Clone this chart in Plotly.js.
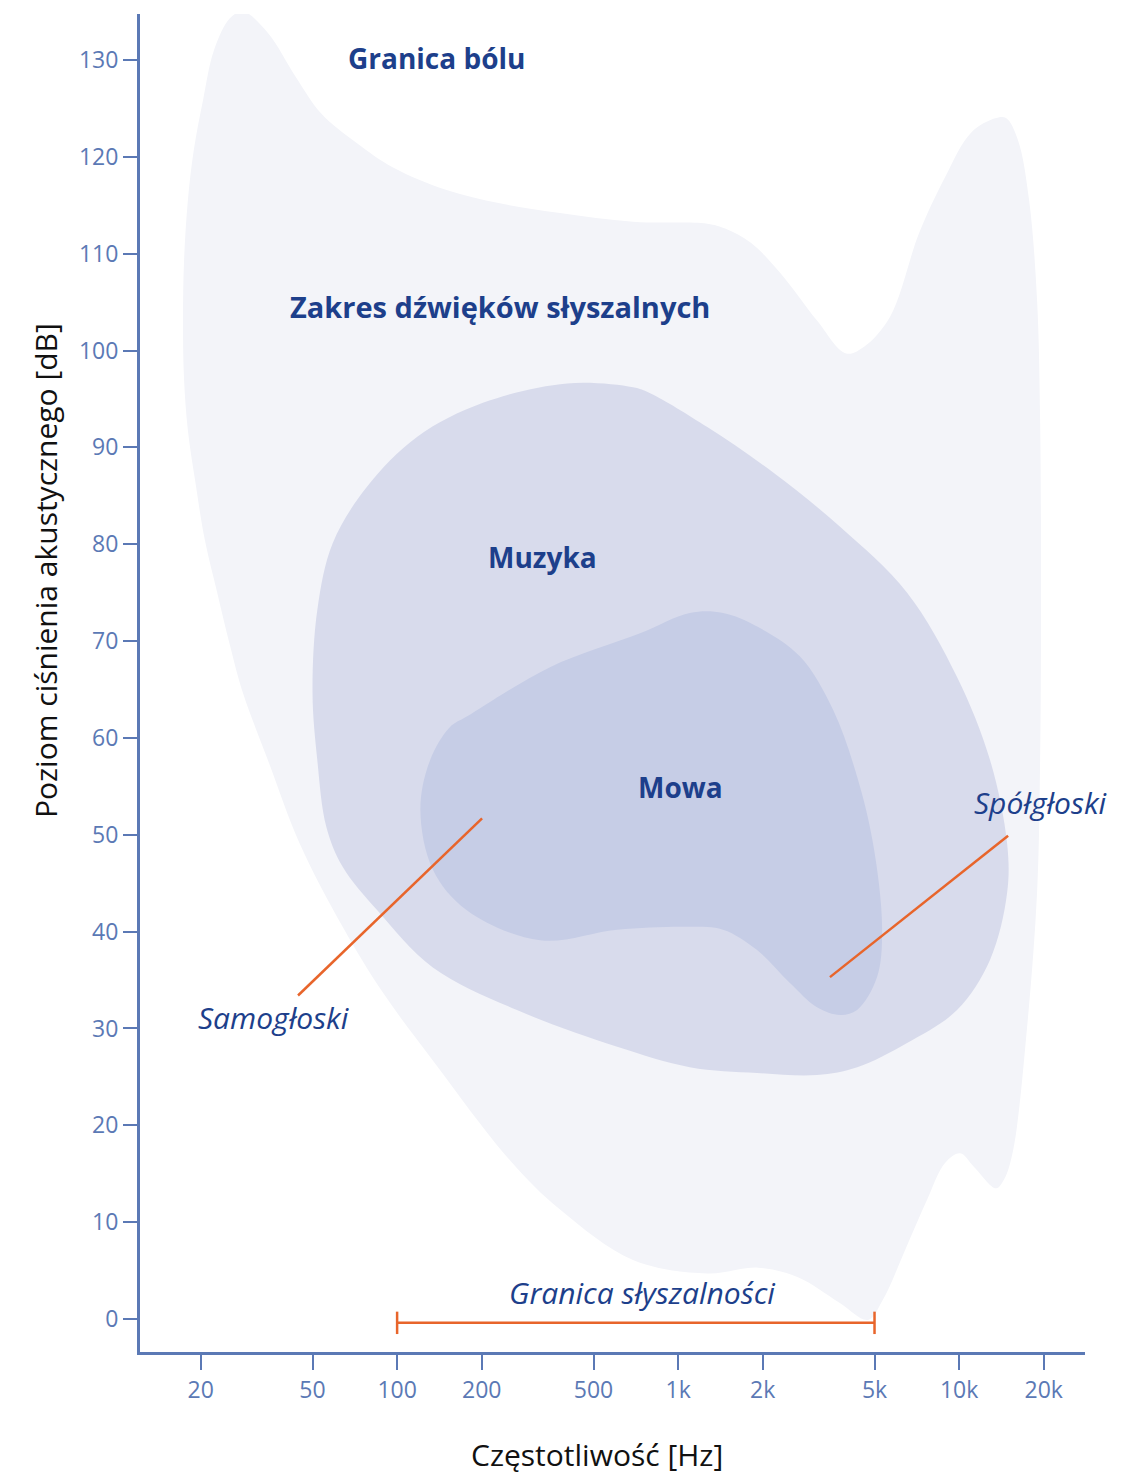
<!DOCTYPE html>
<html>
<head>
<meta charset="utf-8">
<script src="https://cdn.plot.ly/plotly-3.0.1.min.js"></script>
<style>
  html, body { margin: 0; padding: 0; background: #ffffff; }
  #chart { width: 1135px; height: 1475px; }
</style>
</head>
<body>
<div id="chart"></div>
<script>
// ---- Data (frequency in Hz, level in dB) ----
const audibleFreq = [28.3, 34.7, 43.7, 53.6, 72, 96.7, 149, 232, 380, 691, 1270, 1470, 1820, 2310, 3120, 3960, 4590, 5680, 7200, 8910, 11030, 13540, 14690, 16210, 17750, 18940, 19420, 19570, 19420, 18940, 17450, 15560, 14450, 13540, 11300, 10080, 8910, 7690, 6420, 5360, 4740, 3740, 2670, 1925, 1270, 691, 380, 252, 134, 89, 64, 45, 34.7, 28.3, 25.4, 22.9, 20.7, 19.1, 18.0, 17.45, 17.3, 17.45, 18.0, 18.9, 20.4, 22.3, 25.4, 28.3];
const audibleDb   = [135.0, 132.8, 128.2, 124.5, 121.4, 118.9, 116.6, 115.2, 114.2, 113.3, 113.1, 112.6, 111.1, 108.0, 103.1, 99.7, 100.4, 103.5, 112.1, 117.9, 122.5, 124.0, 124.0, 121.7, 115.5, 105.2, 92.8, 74.2, 57.7, 44.0, 30.1, 17.4, 14.4, 13.5, 15.7, 17.1, 16.1, 12.3, 7.1, 2.0, -0.1, 1.7, 4.3, 5.3, 4.7, 6.1, 11.3, 16.4, 26.7, 33.7, 40.5, 49.1, 57.7, 64.6, 69.6, 75.0, 80.4, 86.6, 91.8, 97.0, 103.1, 109.3, 115.5, 120.7, 125.9, 131.0, 134.3, 135.0];

const musicFreq = [403, 691, 795, 1270, 2180, 3770, 6530, 9830, 12890, 14820, 14820, 12890, 9830, 6530, 4340, 3120, 1910, 1100, 607, 267, 134, 85, 64, 56, 52, 50, 52, 59, 78, 118, 202, 403];
const musicDb   = [96.6, 96.2, 95.6, 92.1, 87.4, 81.8, 75.0, 66.3, 57.7, 49.1, 44.0, 37.1, 31.9, 28.5, 26.0, 25.2, 25.4, 26.0, 28.1, 31.9, 36.3, 42.2, 46.7, 50.8, 57.7, 64.6, 73.2, 80.1, 85.9, 91.1, 94.6, 96.6];

const speechFreq = [350, 732, 1100, 1445, 1910, 2716, 3560, 4335, 4940, 5320, 5105, 4335, 3770, 3120, 2500, 1910, 1445, 1100, 607, 323, 177, 134, 121, 131, 154, 177, 350];
const speechDb   = [67.3, 70.8, 72.9, 72.9, 71.5, 68.4, 62.9, 56.0, 49.1, 40.5, 35.3, 31.9, 31.4, 32.2, 34.7, 38.1, 40.2, 40.5, 40.2, 39.1, 42.2, 46.4, 52.6, 57.7, 61.1, 62.2, 67.3];

const vowelLineFreq = [44.4, 200.6];
const vowelLineDb   = [33.4, 51.7];
const consonantLineFreq = [3470, 14940];
const consonantLineDb   = [35.3, 49.9];
const thresholdFreq = [100, 5000];
const thresholdDb   = [-0.4, -0.4];

const xTickVals = [20, 50, 100, 200, 500, 1000, 2000, 5000, 10000, 20000];
const xTickText = ['20', '50', '100', '200', '500', '1k', '2k', '5k', '10k', '20k'];
const yTickVals = [0, 10, 20, 30, 40, 50, 60, 70, 80, 90, 100, 110, 120, 130];
const yTickText = ['0', '10', '20', '30', '40', '50', '60', '70', '80', '90', '100', '110', '120', '130'];

// ---- Styles ----
const FONT = '"Open Sans", Lato, sans-serif';
const DARK = '#1d3f8b';
const AXIS = '#5b79b5';
const ORANGE = '#e8652b';

function region(x, y, color) {
  return {
    type: 'scatter', mode: 'lines', x: x, y: y,
    fill: 'toself', fillcolor: color,
    line: { color: color, width: 0, shape: 'spline', smoothing: 1 },
    hoverinfo: 'skip', showlegend: false
  };
}
function segment(x, y) {
  return {
    type: 'scatter', mode: 'lines', x: x, y: y,
    line: { color: ORANGE, width: 2.5 },
    hoverinfo: 'skip', showlegend: false
  };
}

const traces = [
  region(audibleFreq, audibleDb, '#f3f4f9'),
  region(musicFreq, musicDb, '#d8dbec'),
  region(speechFreq, speechDb, '#c6cde6'),
  segment(vowelLineFreq, vowelLineDb),
  segment(consonantLineFreq, consonantLineDb),
  {
    type: 'scatter', mode: 'lines+markers', x: thresholdFreq, y: thresholdDb,
    line: { color: ORANGE, width: 2.5 },
    marker: { symbol: 'line-ns', size: 16, color: ORANGE, line: { color: ORANGE, width: 2.5 } },
    hoverinfo: 'skip', showlegend: false, cliponaxis: false
  }
];

function label(text, x, y, opts) {
  return Object.assign({
    text: text, x: Math.log10(x), y: y, xref: 'x', yref: 'y',
    showarrow: false, xanchor: 'center', yanchor: 'middle',
    font: { family: FONT, size: 28, color: DARK, weight: 700 }
  }, opts || {});
}
const italicFont = { family: FONT, size: 30, color: DARK, weight: 400 };

const layout = {
  width: 1135, height: 1475,
  margin: { l: 140, r: 50, t: 14, b: 123 },
  paper_bgcolor: '#ffffff', plot_bgcolor: '#ffffff',
  font: { family: FONT, color: AXIS },
  showlegend: false,
  xaxis: {
    type: 'log', range: [1.085, 4.448],
    showgrid: false, zeroline: false,
    showline: true, linecolor: AXIS, linewidth: 3,
    ticks: 'outside', ticklen: 15, tickwidth: 2, tickcolor: AXIS,
    tickmode: 'array', tickvals: xTickVals, ticktext: xTickText,
    tickfont: { family: FONT, size: 23, color: AXIS },
    fixedrange: true
  },
  yaxis: {
    range: [-3.41, 134.75],
    showgrid: false, zeroline: false,
    showline: true, linecolor: AXIS, linewidth: 3,
    ticks: 'outside', ticklen: 14, tickwidth: 2, tickcolor: AXIS,
    tickmode: 'array', tickvals: yTickVals, ticktext: yTickText,
    tickfont: { family: FONT, size: 23, color: AXIS },
    fixedrange: true
  },
  annotations: [
    label('Granica bólu', 137.6, 130.2),
    label('Zakres dźwięków słyszalnych', 232.5, 104.5, { font: { family: FONT, size: 29, color: DARK, weight: 700 } }),
    label('Muzyka', 328, 78.7),
    label('Mowa', 1016, 54.9),
    label('<i>Spółgłoski</i>', 19420, 53.3, { font: italicFont }),
    label('<i>Samogłoski</i>', 36.2, 31.1, { font: italicFont }),
    label('<i>Granica słyszalności</i>', 744, 2.7, { font: italicFont }),
    {
      text: 'Częstotliwość [Hz]', xref: 'paper', yref: 'paper', x: 0.4836, y: -0.0765,
      xanchor: 'center', yanchor: 'middle', showarrow: false,
      font: { family: FONT, size: 30, color: '#111111' }
    },
    {
      text: 'Poziom ciśnienia akustycznego [dB]', xref: 'paper', yref: 'paper', x: -0.1005, y: 0.5837,
      xanchor: 'center', yanchor: 'middle', showarrow: false, textangle: -90,
      font: { family: FONT, size: 30, color: '#111111' }
    }
  ]
};

Plotly.newPlot('chart', traces, layout, { displayModeBar: false, staticPlot: true });
</script>
</body>
</html>
